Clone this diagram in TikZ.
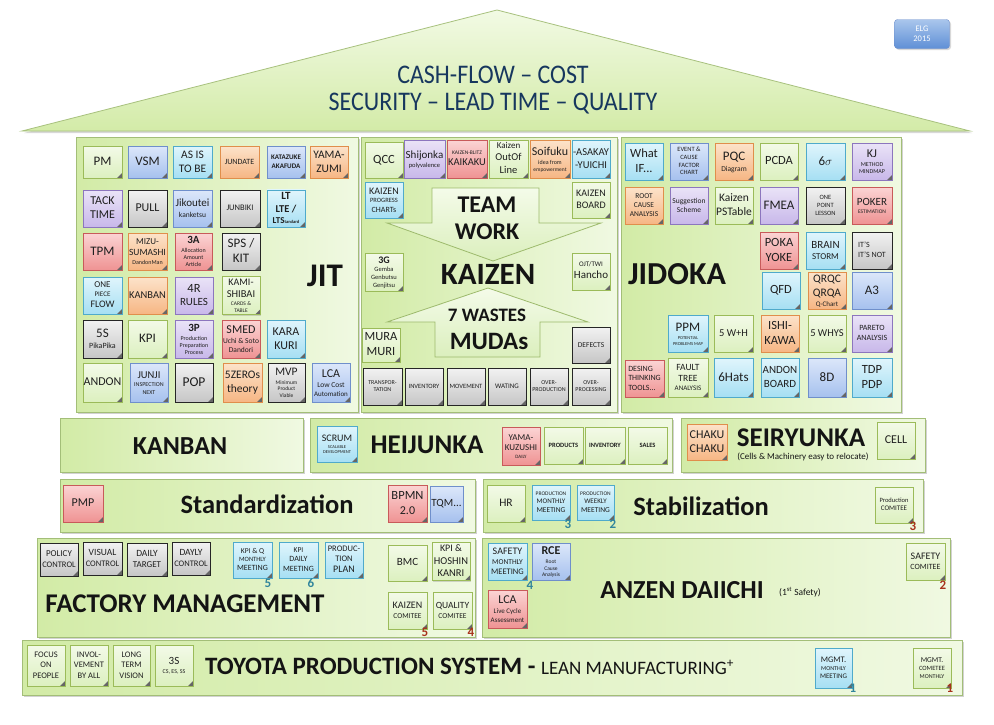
\documentclass[tikz,border=0pt]{standalone}
\usepackage{fontspec}
\usepackage{graphicx}
\setmainfont{Carlito}
\usetikzlibrary{shadows}
\definecolor{gA}{HTML}{F3FAE8}\definecolor{gB}{HTML}{DCF0BF}\definecolor{gD}{HTML}{9BBB59}
\definecolor{bA}{HTML}{DCE7FA}\definecolor{bB}{HTML}{A6C1EE}\definecolor{bD}{HTML}{6F8FCB}
\definecolor{cA}{HTML}{E0F5FC}\definecolor{cB}{HTML}{A6DFF3}\definecolor{cD}{HTML}{4FAACB}
\definecolor{oA}{HTML}{FCE3CA}\definecolor{oB}{HTML}{F6B684}\definecolor{oD}{HTML}{E08E4B}
\definecolor{uA}{HTML}{EAE3F7}\definecolor{uB}{HTML}{C8B8EA}\definecolor{uD}{HTML}{8C76BE}
\definecolor{rA}{HTML}{FBD4D4}\definecolor{rB}{HTML}{EF9393}\definecolor{rD}{HTML}{C85A5A}
\definecolor{kA}{HTML}{F2F2F2}\definecolor{kB}{HTML}{C6C6C6}\definecolor{kD}{HTML}{262626}
\definecolor{pL}{HTML}{D2EBA6}\definecolor{pR}{HTML}{F0F9E2}\definecolor{pD}{HTML}{A3BE78}
\definecolor{rfA}{HTML}{F2FAE4}\definecolor{rfB}{HTML}{D3EBA8}\definecolor{rfD}{HTML}{A8C17E}
\definecolor{aA}{HTML}{F4FBE9}\definecolor{aB}{HTML}{DBEFBD}\definecolor{aD}{HTML}{9DBA6C}
\definecolor{navy}{HTML}{17375E}
\definecolor{tealn}{HTML}{31859C}
\definecolor{redn}{HTML}{A8321C}
\definecolor{elgA}{HTML}{A9C6EC}\definecolor{elgB}{HTML}{5F8FD6}
\newcommand\tsz[1]{\fontsize{#1}{#1}\selectfont}
\newcommand\Ln[2]{\fontsize{#1}{#1}\selectfont\vrule height .87em depth .33em width 0pt\relax #2\cr}
\newcommand\Lb[2]{\bfseries\Ln{#1}{#2}}
\newcommand\stk[1]{\vbox{\offinterlineskip\halign{\hfil##\hfil\cr#1}}}
\newcommand\stkl[1]{\vbox{\offinterlineskip\halign{##\hfil\cr#1}}}
\newcommand\nt[7]{\node[note,#2,minimum width=#5pt,minimum height=#6pt] (#1) at ({#3+#5/2},{#4+#6/2}) {\stk{#7}};}
\newcommand\ntl[7]{\node[note,#2,minimum width=#5pt,minimum height=#6pt] (#1) at ({#3+#5/2},{#4+#6/2}) {\stkl{#7}};}
\newcommand\pnl[5]{\node[panel,minimum width=#4pt,minimum height=#5pt] (#1) at ({#2+#4/2},{#3+#5/2}) {};}
\tikzset{
  note/.style={rectangle,inner sep=0.3pt,text=black!88,line width=0.6pt,
    drop shadow={opacity=0.3,shadow xshift=1.3pt,shadow yshift=-1.3pt},
    path picture={\fill[black!60] ([xshift=-5pt]path picture bounding box.south east) -- ([yshift=5pt]path picture bounding box.south east) -- (path picture bounding box.south east) -- cycle;}},
  ngreen/.style={top color=gA,bottom color=gB,draw=gD},
  nblue/.style={top color=bA,bottom color=bB,draw=bD},
  ncyan/.style={top color=cA,bottom color=cB,draw=cD},
  norange/.style={top color=oA,bottom color=oB,draw=oD},
  npurple/.style={top color=uA,bottom color=uB,draw=uD},
  npink/.style={top color=rA,bottom color=rB,draw=rD},
  ngray/.style={top color=kA,bottom color=kB,draw=kD},
  panel/.style={rectangle,draw=pD,line width=0.7pt,left color=pL,right color=pR,
    drop shadow={opacity=0.35,shadow xshift=2pt,shadow yshift=-2pt}},
  bigt/.style={inner sep=0pt,text=black!92},
  numt/.style={inner sep=0pt,font=\tsz{13}\bfseries},
  rooftxt/.style={inner sep=0pt,text=navy,font=\tsz{24}},
  arrshape/.style={draw=aD,line width=0.8pt,top color=aA,bottom color=aB},
  roofshape/.style={draw=rfD,line width=0.8pt,top color=rfA,bottom color=rfB,
    drop shadow={opacity=0.3,shadow xshift=2pt,shadow yshift=-2pt}},
  elgbox/.style={rounded corners=3pt,draw=bD,top color=elgA,bottom color=elgB,text=white,
    drop shadow={opacity=0.3,shadow xshift=1.5pt,shadow yshift=-1.5pt}}
}
\begin{document}
\begin{tikzpicture}[x=1pt,y=-1pt]
\fill[white] (0,0) rectangle (994,724);
\useasboundingbox (0,0) rectangle (994,724);
% roof
\path[roofshape] (22,131) -- (497,10) -- (970,131) -- cycle;
\node[rooftxt] (goala) at (493,75) {\scalebox{1}[1.12]{CASH-FLOW – COST}};
\node[rooftxt] (goalb) at (493,104) {\scalebox{1}[1.12]{SECURITY – LEAD TIME – QUALITY}};
\node[elgbox,minimum width=55pt,minimum height=29pt] (elg) at (922,34) {\stk{\Ln{8.5}{ELG}\Ln{8.5}{2015}}};
% panels
\pnl{jit}{76}{137}{282}{275}
\pnl{kaizen}{361}{137}{256}{275}
\pnl{jidoka}{621}{137}{280}{275}
\pnl{kanban}{60}{418}{243}{54}
\pnl{heijunka}{310}{418}{362}{54}
\pnl{seiryunka}{681}{418}{244}{54}
\pnl{std}{60}{479}{415}{53}
\pnl{stab}{483}{479}{440}{53}
\pnl{factory}{37}{538}{438}{99}
\pnl{anzen}{482}{538}{468}{99}
\pnl{tps}{22}{640}{940}{55}
% kaizen arrows
\path[arrshape] (432,188) -- (539,188) -- (539,223) -- (601,223) -- (493,261) -- (387,223) -- (432,223) -- cycle;
\path[arrshape] (488,288) -- (588,322) -- (540,322) -- (540,357) -- (435,357) -- (435,322) -- (387,322) -- cycle;
% big labels
\node[bigt,font=\tsz{33}\bfseries] (jitlbl) at (325,276) {JIT};
\node[bigt,font=\tsz{31}\bfseries] (kaizenlbl) at (488,274) {KAIZEN};
\node[bigt,font=\tsz{32}\bfseries] (jidokalbl) at (677,274) {JIDOKA};
\node[bigt,font=\tsz{24}\bfseries] (teamlbl) at (487,205) {TEAM};
\node[bigt,font=\tsz{24}\bfseries] (worklbl) at (487,232) {WORK};
\node[bigt,font=\tsz{19}\bfseries] (wasteslbl) at (487,315) {7 WASTES};
\node[bigt,font=\tsz{25}\bfseries] (mudaslbl) at (489,341) {MUDAs};
\node[bigt,font=\tsz{26}\bfseries] (kanbanlbl) at (180,446) {KANBAN};
\node[bigt,font=\tsz{27}\bfseries] (heijlbl) at (427,445) {HEIJUNKA};
\node[bigt,font=\tsz{27}\bfseries] (seirlbl) at (801,438) {SEIRYUNKA};
\node[bigt,font=\tsz{9}] (seirsub) at (803,457) {(Cells \& Machinery easy to relocate)};
\node[bigt,font=\tsz{26.5}\bfseries] (stdlbl) at (267,504) {Standardization};
\node[bigt,font=\tsz{26.5}\bfseries] (stablbl) at (701,506) {Stabilization};
\node[bigt,font=\tsz{27}\bfseries] (factlbl) at (185,604) {FACTORY MANAGEMENT};
\node[bigt,font=\tsz{26}\bfseries] (anzenlbl) at (682,590) {ANZEN DAIICHI};
\node[bigt,font=\tsz{9.5}] (anzensub) at (800,592) {(1\textsuperscript{st} Safety)};
\node[bigt,anchor=base west] (tpslbl) at (205,674) {\tsz{25}\bfseries TOYOTA PRODUCTION SYSTEM - \mdseries\tsz{19}LEAN MANUFACTURING\textsuperscript{+}};
% JIT notes
\nt{pm}{ngreen}{83}{146}{39}{32}{\Ln{13}{PM}}
\nt{vsm}{nblue}{128}{146}{39}{32}{\Ln{13}{VSM}}
\nt{asis}{ncyan}{173}{146}{39}{32}{\Ln{11.5}{AS IS}\Ln{11.5}{TO BE}}
\nt{jundate}{norange}{220}{146}{39}{32}{\Ln{8}{JUNDATE}}
\nt{katazuke}{nblue}{267}{146}{38}{32}{\Lb{7}{KATAZUKE}\Lb{7}{AKAFUDA}}
\nt{yamazumi}{norange}{310}{146}{38}{32}{\Ln{11.5}{YAMA-}\Ln{11.5}{ZUMI}}
\nt{tack}{npurple}{83}{190}{39}{37}{\Ln{12}{TACK}\Ln{12}{TIME}}
\nt{pull}{ngray}{128}{190}{39}{37}{\Ln{12}{PULL}}
\nt{jikoutei}{nblue}{173}{190}{39}{37}{\Ln{11}{Jikoutei}\Ln{7.5}{kanketsu}}
\nt{junbiki}{ngray}{220}{190}{40}{37}{\Ln{8.5}{JUNBIKI}}
\nt{lt}{ncyan}{267}{190}{38}{37}{\Lb{11}{LT}\Lb{10.5}{LTE /}\Lb{9}{LTS{\tsz{4.5}tandard}}}
\nt{tpm}{npink}{83}{233}{39}{37}{\Ln{13}{TPM}}
\nt{mizu}{norange}{128}{233}{39}{37}{\Ln{9}{MIZU-}\Ln{9.5}{SUMASHI}\Ln{6}{DandonMan}}
\nt{threea}{npink}{175}{233}{37}{37}{\Lb{11}{3A}\Ln{6}{Allocation}\Ln{6}{Amount}\Ln{6}{Article}}
\nt{sps}{ngray}{222}{233}{38}{37}{\Ln{13}{SPS /}\Ln{13}{KIT}}
\nt{opf}{ncyan}{83}{277}{39}{37}{\Ln{9}{ONE}\Ln{7}{PIECE}\Ln{10}{FLOW}}
\nt{kanbann}{norange}{128}{277}{39}{37}{\Ln{10.5}{KANBAN}}
\nt{fourr}{npurple}{175}{277}{38}{37}{\Ln{12.5}{4R}\Ln{11}{RULES}}
\nt{kami}{ngreen}{222}{277}{38}{37}{\Ln{10}{KAMI-}\Ln{10.5}{SHIBAI}\Ln{5.5}{CARDS \&}\Ln{5.5}{TABLE}}
\nt{fives}{ngray}{83}{320}{39}{38}{\Ln{13}{5S}\Ln{8}{PikaPika}}
\nt{kpi}{ngreen}{128}{320}{39}{38}{\Ln{13}{KPI}}
\nt{threep}{npurple}{175}{320}{38}{38}{\Lb{11}{3P}\Ln{6}{Production}\Ln{6}{Preparation}\Ln{6}{Process}}
\nt{smed}{npink}{222}{320}{38}{38}{\Ln{12}{SMED}\Ln{7.5}{Uchi \& Soto}\Ln{7.5}{Dandori}}
\nt{karakuri}{ncyan}{267}{320}{38}{38}{\Ln{12}{KARA}\Ln{12}{KURI}}
\nt{andon}{ngreen}{83}{363}{39}{39}{\Ln{12}{ANDON}}
\nt{junji}{nblue}{130}{363}{38}{39}{\Ln{10.5}{JUNJI}\Ln{6}{INSPECTION}\Ln{6}{NEXT}}
\nt{pop}{ngray}{175}{363}{38}{39}{\Ln{13.5}{POP}}
\nt{fivezeros}{norange}{223}{363}{39}{39}{\Ln{11.5}{5ZEROs}\Ln{11.5}{theory}}
\nt{mvp}{ngray}{268}{363}{37}{39}{\Ln{11.5}{MVP}\Ln{5.5}{Minimum}\Ln{5.5}{Product}\Ln{5.5}{Viable}}
\nt{lcaa}{nblue}{312}{363}{38}{39}{\Ln{12}{LCA}\Ln{7.5}{Low Cost}\Ln{7}{Automation}}
% KAIZEN notes
\nt{qcc}{ngreen}{365}{142}{38}{36}{\Ln{12.5}{QCC}}
\nt{shijonka}{npurple}{404}{140}{41}{38}{\Ln{11}{Shijonka}\Ln{6.5}{polyvalence}}
\nt{blitz}{npink}{447}{140}{40}{38}{\Ln{5.5}{KAIZEN-BLITZ}\Ln{10.5}{KAIKAKU}}
\nt{outof}{ngreen}{489}{140}{39}{38}{\Ln{9}{Kaizen}\Ln{10.5}{OutOf}\Ln{10.5}{Line}}
\nt{soifuku}{norange}{530}{140}{40}{38}{\Ln{12}{Soifuku}\Ln{6}{idea from}\Ln{5.5}{empowerment}}
\nt{asakay}{ncyan}{572}{140}{38}{38}{\Ln{10.5}{-ASAKAY}\Ln{10.5}{-YUICHI}}
\nt{kpc}{ncyan}{365}{182}{38}{36}{\Ln{10}{KAIZEN}\Ln{6.5}{PROGRESS}\Ln{8}{CHARTs}}
\nt{kboard}{ngreen}{572}{182}{38}{36}{\Ln{10}{KAIZEN}\Ln{10}{BOARD}}
\nt{threeg}{ngreen}{365}{253}{38}{38}{\Lb{10}{3G}\Ln{6.5}{Gemba}\Ln{6.5}{Genbutsu}\Ln{6.5}{Genjitsu}}
\nt{ojt}{ngreen}{572}{253}{38}{37}{\Ln{7}{OJT/TWI}\Ln{11}{Hancho}}
\nt{muramuri}{ngreen}{362}{328}{38}{34}{\Ln{12.5}{MURA}\Ln{12.5}{MURI}}
\nt{defects}{ngray}{572}{327}{38}{36}{\Ln{7.5}{DEFECTS}}
\nt{transp}{ngray}{363}{368}{39}{37}{\Ln{6}{TRANSPOR-}\Ln{6}{TATION}}
\nt{invent}{ngray}{405}{368}{38}{37}{\Ln{6.5}{INVENTORY}}
\nt{movem}{ngray}{447}{368}{38}{37}{\Ln{6.5}{MOVEMENT}}
\nt{wating}{ngray}{488}{368}{38}{37}{\Ln{7}{WATING}}
\nt{overprod}{ngray}{530}{368}{38}{37}{\Ln{6}{OVER-}\Ln{6}{PRODUCTION}}
\nt{overproc}{ngray}{572}{368}{38}{37}{\Ln{6}{OVER-}\Ln{6}{PROCESSING}}
% JIDOKA notes
\nt{whatif}{ncyan}{625}{143}{38}{37}{\Ln{12.5}{What}\Ln{12.5}{IF...}}
\nt{event}{nblue}{670}{143}{38}{37}{\Ln{6.5}{EVENT \&}\Ln{6.5}{CAUSE}\Ln{6.5}{FACTOR}\Ln{6.5}{CHART}}
\nt{pqc}{norange}{715}{143}{38}{37}{\Ln{13}{PQC}\Ln{7.5}{Diagram}}
\nt{pcda}{ngreen}{760}{143}{38}{37}{\Ln{12.5}{PCDA}}
\nt{sixs}{ncyan}{806}{143}{39}{37}{\Ln{13}{6$\sigma$}}
\nt{kj}{npurple}{852}{143}{40}{37}{\Ln{12}{KJ}\Ln{6}{METHOD}\Ln{6}{MINDMAP}}
\nt{rootc}{norange}{625}{187}{38}{37}{\Ln{7.5}{ROOT}\Ln{7.5}{CAUSE}\Ln{7.5}{ANALYSIS}}
\nt{suggest}{npurple}{670}{187}{38}{37}{\Ln{7.5}{Suggestion}\Ln{7.5}{Scheme}}
\nt{pstable}{ngreen}{715}{187}{38}{37}{\Ln{11.5}{Kaizen}\Ln{11.5}{PSTable}}
\nt{fmea}{npurple}{760}{187}{38}{37}{\Ln{13}{FMEA}}
\nt{opl}{ngray}{806}{187}{39}{37}{\Ln{6.5}{ONE}\Ln{6.5}{POINT}\Ln{6.5}{LESSON}}
\nt{poker}{npink}{852}{187}{40}{37}{\Ln{11}{POKER}\Ln{5.5}{ESTIMATION}}
\nt{pokayoke}{npink}{760}{232}{38}{37}{\Ln{12.5}{POKA}\Ln{12.5}{YOKE}}
\nt{brain}{ncyan}{806}{232}{39}{37}{\Ln{11}{BRAIN}\Ln{9}{STORM}}
\ntl{itsnot}{ngray}{852}{232}{40}{37}{\Ln{8}{IT'S}\Ln{8}{IT'S NOT}}
\nt{qfd}{ncyan}{762}{272}{38}{37}{\Ln{12.5}{QFD}}
\nt{qrqc}{norange}{808}{272}{38}{37}{\Ln{11.5}{QRQC}\Ln{11.5}{QRQA}\Ln{7}{Q-Chart}}
\nt{athree}{nblue}{852}{272}{40}{37}{\Ln{13}{A3}}
\nt{ppm}{ncyan}{668}{315}{40}{37}{\Ln{13}{PPM}\Ln{4.5}{POTENTIAL}\Ln{4.5}{PROBLEMS MAP}}
\nt{fivewh}{ngreen}{714}{315}{39}{37}{\Ln{10.5}{5 W+H}}
\nt{ishikawa}{norange}{761}{315}{38}{37}{\Ln{12.5}{ISHI-}\Ln{12.5}{KAWA}}
\nt{fivewhys}{ngreen}{808}{315}{38}{37}{\Ln{10.5}{5 WHYS}}
\nt{pareto}{npurple}{852}{315}{40}{37}{\Ln{8}{PARETO}\Ln{8}{ANALYSIS}}
\ntl{desing}{npink}{625}{360}{39}{37}{\Ln{8}{DESING}\Ln{8}{THINKING}\Ln{8}{TOOLS...}}
\nt{fta}{ngreen}{668}{358}{40}{39}{\Ln{9.5}{FAULT}\Ln{9.5}{TREE}\Ln{7}{ANALYSIS}}
\nt{sixhats}{ncyan}{714}{358}{39}{39}{\Ln{13}{6Hats}}
\nt{andonb}{ncyan}{761}{358}{38}{39}{\Ln{11}{ANDON}\Ln{11}{BOARD}}
\nt{eightd}{nblue}{808}{358}{38}{39}{\Ln{13}{8D}}
\nt{tdp}{ncyan}{852}{358}{40}{39}{\Ln{12.5}{TDP}\Ln{12.5}{PDP}}
% KANBAN / HEIJUNKA / SEIRYUNKA
\nt{scrum}{ncyan}{317}{426}{40}{36}{\Ln{10}{SCRUM}\Ln{4.5}{SCALABLE}\Ln{4.5}{DEVELOPMENT}}
\nt{yamak}{npink}{502}{427}{38}{38}{\Ln{9}{YAMA-}\Ln{9}{KUZUSHI}\Ln{5}{DAILY}}
\nt{products}{ngreen}{544}{427}{39}{37}{\Lb{6.5}{PRODUCTS}}
\nt{inventory}{ngreen}{585}{427}{40}{37}{\Lb{6.5}{INVENTORY}}
\nt{sales}{ngreen}{628}{427}{39}{37}{\Lb{6.5}{SALES}}
\nt{chaku}{norange}{687}{424}{40}{36}{\Ln{12}{CHAKU}\Ln{12}{CHAKU}}
\nt{cell}{ngreen}{877}{422}{38}{37}{\Ln{12}{CELL}}
% Standardization / Stabilization
\nt{pmp}{npink}{63}{485}{40}{37}{\Ln{12}{PMP}}
\nt{bpmn}{npink}{388}{485}{39}{37}{\Ln{12.5}{BPMN}\Ln{12}{2.0}}
\nt{tqm}{nblue}{430}{486}{33}{36}{\Ln{11}{TQM...}}
\nt{hr}{ngreen}{487}{485}{38}{37}{\Ln{11.5}{HR}}
\nt{pmm}{ncyan}{532}{485}{38}{35}{\Ln{5.5}{PRODUCTION}\Ln{7}{MONTHLY}\Ln{7.5}{MEETING}}
\nt{pwm}{ncyan}{577}{485}{37}{35}{\Ln{5.5}{PRODUCTION}\Ln{7}{WEEKLY}\Ln{7.5}{MEETING}}
\nt{pcom}{ngreen}{875}{487}{38}{36}{\Ln{6.5}{Production}\Ln{7}{COMITEE}}
% Factory management
\nt{policy}{ngray}{40}{543}{38}{33}{\Ln{9}{POLICY}\Ln{8.5}{CONTROL}}
\nt{visual}{ngray}{83}{542}{39}{33}{\Ln{9.5}{VISUAL}\Ln{8.5}{CONTROL}}
\nt{dtarget}{ngray}{127}{543}{40}{33}{\Ln{9.5}{DAILY}\Ln{9}{TARGET}}
\nt{dcontrol}{ngray}{172}{542}{38}{33}{\Ln{9.5}{DAYLY}\Ln{8.5}{CONTROL}}
\nt{kpiq}{ncyan}{233}{542}{39}{36}{\Ln{7.5}{KPI \& Q}\Ln{6.5}{MONTHLY}\Ln{8}{MEETING}}
\nt{kpid}{ncyan}{279}{542}{39}{36}{\Ln{7.5}{KPI}\Ln{8}{DAILY}\Ln{8}{MEETING}}
\nt{pplan}{ncyan}{325}{542}{38}{36}{\Ln{8.5}{PRODUC-}\Ln{8.5}{TION}\Ln{10}{PLAN}}
\nt{bmc}{ngreen}{388}{545}{39}{36}{\Ln{11}{BMC}}
\nt{hoshin}{ngreen}{432}{543}{38}{37}{\Ln{10}{KPI \&}\Ln{10.5}{HOSHIN}\Ln{10.5}{KANRI}}
\nt{kcom}{ngreen}{388}{592}{39}{37}{\Ln{10}{KAIZEN}\Ln{7.5}{COMITEE}}
\nt{qcom}{ngreen}{433}{592}{39}{37}{\Ln{9.5}{QUALITY}\Ln{7.5}{COMITEE}}
% Anzen daiichi
\nt{smm}{ncyan}{488}{543}{39}{37}{\Ln{10}{SAFETY}\Ln{7.5}{MONTHLY}\Ln{8.5}{MEETING}}
\nt{rce}{nblue}{532}{543}{38}{37}{\Lb{12}{RCE}\Ln{5.5}{Root}\Ln{5.5}{Cause}\Ln{5.5}{Analysis}}
\nt{lcab}{npink}{488}{590}{39}{38}{\Ln{12}{LCA}\Ln{7}{Live Cycle}\Ln{7}{Assessment}}
\nt{scom}{ngreen}{906}{543}{39}{37}{\Ln{10}{SAFETY}\Ln{8}{COMITEE}}
% TPS
\nt{focus}{ngreen}{27}{645}{38}{41}{\Ln{8.5}{FOCUS}\Ln{8.5}{ON}\Ln{8.5}{PEOPLE}}
\nt{invol}{ngreen}{70}{645}{38}{41}{\Ln{8.5}{INVOL-}\Ln{8.5}{VEMENT}\Ln{8.5}{BY ALL}}
\nt{longt}{ngreen}{113}{645}{37}{41}{\Ln{8.5}{LONG}\Ln{8.5}{TERM}\Ln{8.5}{VISION}}
\nt{threes}{ngreen}{155}{645}{38}{41}{\Ln{11}{3S}\Ln{6}{CS, ES, SS}}
\nt{mgmtm}{ncyan}{815}{648}{37}{40}{\Ln{8.5}{MGMT.}\Ln{6}{MONTHLY}\Ln{7}{MEETING}}
\nt{mgmtc}{ngreen}{913}{648}{38}{40}{\Ln{7.5}{MGMT.}\Ln{6.5}{COMETEE}\Ln{6}{MONTHLY}}
% numbers
\node[numt,text=tealn] (na) at (568,524) {3};
\node[numt,text=tealn] (nb) at (613,524) {2};
\node[numt,text=redn] (nc) at (913,526) {3};
\node[numt,text=tealn] (nd) at (268,583) {5};
\node[numt,text=tealn] (ne) at (311,583) {6};
\node[numt,text=redn] (nf) at (425,632) {5};
\node[numt,text=redn] (ng) at (471,632) {4};
\node[numt,text=tealn] (nh) at (530,585) {4};
\node[numt,text=redn] (ni) at (943,585) {2};
\node[numt,text=tealn] (nj) at (853,688) {1};
\node[numt,text=redn] (nk) at (950,688) {1};
\end{tikzpicture}
\end{document}
